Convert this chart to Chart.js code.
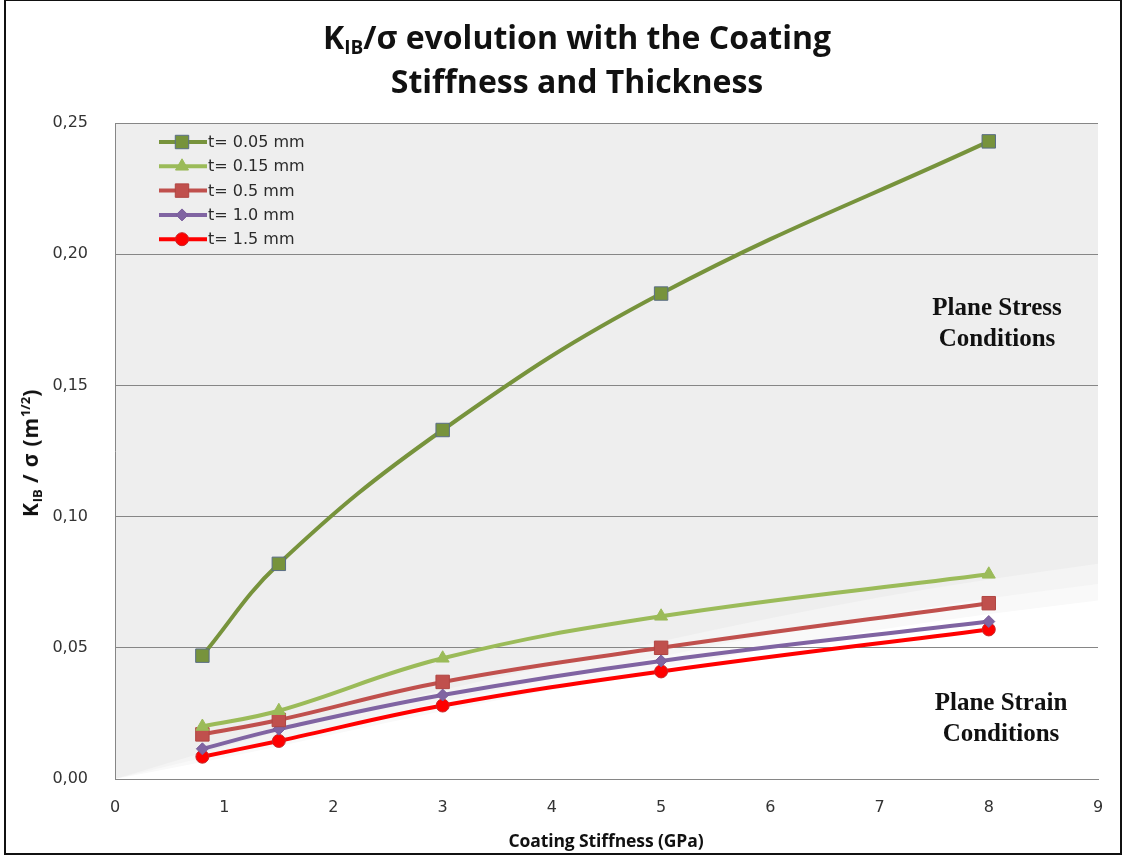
<!DOCTYPE html>
<html>
<head>
<meta charset="utf-8">
<script src="https://cdn.jsdelivr.net/npm/chart.js@4/dist/chart.umd.min.js"></script>
<style>
  html, body { margin: 0; padding: 0; background: #fff; }
  #wrap { position: relative; width: 1125px; height: 856px; overflow: hidden; background: #fff; }
  #frame { position: absolute; left: 4px; top: 0; width: 1118px; height: 855px; border: 2px solid #111; border-top-width: 1px; box-sizing: border-box; pointer-events: none; }
  canvas { position: absolute; left: 0; top: 0; }
  .txt { position: absolute; color: #111; white-space: nowrap; }
  #title { left: 0; width: 1154px; top: 15px; text-align: center; font: 700 32px "Open Sans", sans-serif; line-height: 44px; letter-spacing: 0px; }
  #title sub { font-size: 19px; vertical-align: -5px; line-height: 0; }
  #ytitle { left: 30px; top: 453px; transform: translate(-50%, -50%) rotate(-90deg); font: 700 21px "Open Sans", sans-serif; letter-spacing: 0.8px; }
  #ytitle sub { font-size: 13px; vertical-align: -4px; line-height: 0; letter-spacing: 0; }
  #ytitle sup { font-size: 13px; vertical-align: 8px; line-height: 0; letter-spacing: 0; }
  #xtitle { left: 606px; top: 840px; transform: translate(-50%, -50%); font: 700 17.5px "Open Sans", sans-serif; letter-spacing: -0.1px; }
  .zone { transform: translate(-50%, 0); text-align: center; font: 700 25px "Liberation Serif", "Times New Roman", serif; line-height: 31px; color: #111; }
  #stress { left: 997px; top: 291px; }
  #strain { left: 1001px; top: 686px; }
</style>
</head>
<body>
<div id="wrap">
  <canvas id="c" width="1125" height="856"></canvas>
  <div id="title" class="txt">K<sub>IB</sub>/σ evolution with the Coating<br>Stiffness and Thickness</div>
  <div id="ytitle" class="txt">K<sub>IB</sub> / σ (m<sup>1/2</sup>)</div>
  <div id="xtitle" class="txt">Coating Stiffness (GPa)</div>
  <div id="stress" class="txt zone">Plane Stress<br>Conditions</div>
  <div id="strain" class="txt zone">Plane Strain<br>Conditions</div>
  <div id="frame"></div>
</div>
<script>
// Coating stiffness values (GPa)
const stiffness = [0.8, 1.5, 3, 5, 8];

// K_IB / sigma (m^1/2) for each coating thickness
const t005 = [0.047, 0.082, 0.133, 0.185, 0.243];
const t015 = [0.020, 0.026, 0.046, 0.062, 0.078];
const t05  = [0.017, 0.0225, 0.037, 0.050, 0.067];
const t10  = [0.0115, 0.019, 0.032, 0.045, 0.060];
const t15  = [0.0085, 0.0145, 0.028, 0.041, 0.057];

const seriesLabels = ['t= 0.05 mm', 't= 0.15 mm', 't= 0.5 mm', 't= 1.0 mm', 't= 1.5 mm'];

// Upper edge of the plane-strain (white) zone, and its soft fringe
const zoneX    = [0, 1, 2, 3, 4, 5, 6, 7, 8, 9];
const zoneEdge = [0, 0.008, 0.017, 0.026, 0.034, 0.042, 0.050, 0.057, 0.063, 0.068];
const zoneFringe = 0.014;

// Axis ticks
const xTicks = [0, 1, 2, 3, 4, 5, 6, 7, 8, 9];
const yTicks = [0, 0.05, 0.10, 0.15, 0.20, 0.25];

const pts = (ys) => ys.map((y, i) => ({ x: stiffness[i], y }));

function series(label, ys, color, style, radius, markerFill, markerBorder) {
  return {
    label, data: pts(ys),
    borderColor: color, borderWidth: 4,
    pointStyle: style, pointRadius: radius, pointHoverRadius: radius,
    pointBackgroundColor: markerFill, pointBorderColor: markerBorder, pointBorderWidth: 1,
    tension: 0.4, fill: false
  };
}

const datasets = [
  series(seriesLabels[0], t005, '#77933C', 'rect', 9.5, '#77933C', '#5a6e86'),
  series(seriesLabels[1], t015, '#9BBB59', 'triangle', 7.5, '#9BBB59', '#9BBB59'),
  series(seriesLabels[2], t05,  '#C0504D', 'rect', 9.5, '#C0504D', '#b04542'),
  series(seriesLabels[3], t10,  '#8064A2', 'rectRot', 6, '#8064A2', '#7a5e9c'),
  series(seriesLabels[4], t15,  '#FF0000', 'circle', 6.5, '#FF0000', '#c8282a')
];

// Smooth path through the zone edge points (quadratic midpoints)
function traceSmooth(ctx, xs, ys) {
  ctx.moveTo(xs[0], ys[0]);
  for (let i = 1; i < xs.length - 1; i++) {
    const mx = (xs[i] + xs[i + 1]) / 2, my = (ys[i] + ys[i + 1]) / 2;
    ctx.quadraticCurveTo(xs[i], ys[i], mx, my);
  }
  ctx.lineTo(xs[xs.length - 1], ys[ys.length - 1]);
}

// Grey plot background with the white plane-strain zone underneath the curves
const zonePlugin = {
  id: 'zones',
  beforeDraw(chart) {
    const { ctx, chartArea: a, scales: { x, y } } = chart;
    ctx.save();
    ctx.beginPath();
    ctx.rect(a.left, a.top, a.right - a.left, a.bottom - a.top);
    ctx.clip();
    ctx.fillStyle = '#eeeeee';
    ctx.fillRect(a.left, a.top, a.right - a.left, a.bottom - a.top);
    const fill = (offset, color) => {
      const xs = zoneX.map(v => x.getPixelForValue(v));
      const ys = zoneEdge.map((v, i) => y.getPixelForValue(v + offset * Math.sqrt(zoneX[i] / 9)));
      ctx.beginPath();
      traceSmooth(ctx, xs, ys);
      ctx.lineTo(a.right + 2, a.bottom); ctx.lineTo(a.left, a.bottom); ctx.closePath();
      ctx.fillStyle = color;
      ctx.fill();
    };
    fill(zoneFringe, '#f4f4f4');
    fill(zoneFringe * 0.45, '#f9f9f9');
    fill(0, '#ffffff');
    ctx.restore();
  }
};

// Legend drawn inside the plot, top-left
const legendPlugin = {
  id: 'innerLegend',
  afterDatasetsDraw(chart) {
    const { ctx, chartArea: a } = chart;
    chart.data.datasets.forEach((ds, i) => {
      const yy = a.top + 19 + i * 24.3;
      const x0 = a.left + 44, x1 = a.left + 92, xm = a.left + 67;
      ctx.save();
      ctx.strokeStyle = ds.borderColor;
      ctx.lineWidth = ds.borderWidth;
      ctx.beginPath(); ctx.moveTo(x0, yy); ctx.lineTo(x1, yy); ctx.stroke();
      ctx.fillStyle = ds.pointBackgroundColor;
      ctx.strokeStyle = ds.pointBorderColor;
      ctx.lineWidth = ds.pointBorderWidth;
      Chart.helpers.drawPoint(ctx, { pointStyle: ds.pointStyle, radius: ds.pointRadius, borderWidth: ds.pointBorderWidth }, xm, yy);
      ctx.fillStyle = '#2b2b2b';
      ctx.font = '16px "DejaVu Sans", sans-serif';
      ctx.textBaseline = 'middle';
      ctx.textAlign = 'left';
      ctx.fillText(ds.label, x1 + 1, yy + 1);
      ctx.restore();
    });
  }
};

new Chart(document.getElementById('c'), {
  type: 'line',
  data: { datasets },
  options: {
    responsive: false,
    animation: false,
    events: [],
    layout: { padding: { left: 0, top: 123, right: 27, bottom: 0 } },
    plugins: { legend: { display: false }, title: { display: false }, tooltip: { enabled: false } },
    scales: {
      x: {
        type: 'linear', min: 0, max: 9,
        afterFit: (s) => { s.height = 77; },
        afterBuildTicks: (s) => { s.ticks = xTicks.map(v => ({ value: v })); },
        grid: { display: false, drawTicks: false },
        border: { display: true, color: '#868686', width: 1 },
        ticks: { padding: 19, color: '#333333', font: { family: 'DejaVu Sans', size: 16 } }
      },
      y: {
        min: 0, max: 0.25,
        afterFit: (s) => { s.width = 115; },
        afterBuildTicks: (s) => { s.ticks = yTicks.map(v => ({ value: v })); },
        grid: { color: '#868686', lineWidth: 1, drawTicks: false },
        border: { display: true, color: '#868686', width: 1 },
        ticks: {
          padding: 27, color: '#333333', font: { family: 'DejaVu Sans', size: 16 },
          callback: (v) => v.toFixed(2).replace('.', ',')
        }
      }
    }
  },
  plugins: [zonePlugin, legendPlugin]
});
</script>
</body>
</html>
